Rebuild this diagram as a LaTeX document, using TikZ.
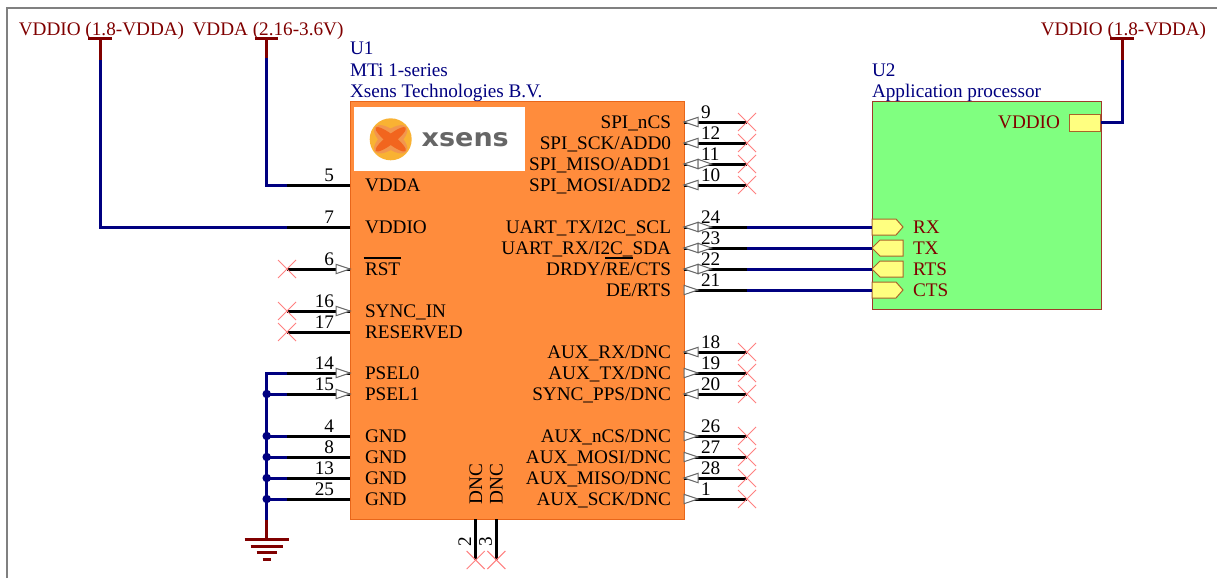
\documentclass[tikz,border=0pt]{standalone}
\usepackage{fontspec}
\setmainfont{Liberation Serif}
\newfontfamily\logofont{DejaVu Sans}
\definecolor{netblue}{HTML}{000080}
\definecolor{pwrred}{HTML}{800000}
\definecolor{chipfill}{HTML}{FF8C3C}
\definecolor{chipline}{HTML}{E8661A}
\definecolor{procfill}{HTML}{80FF80}
\definecolor{procline}{HTML}{A03A2A}
\definecolor{portfill}{HTML}{FFFF80}
\definecolor{portline}{HTML}{A8642A}
\definecolor{noconn}{HTML}{FF8080}
\definecolor{framegrey}{HTML}{808080}
\definecolor{logoyellow}{HTML}{F9B233}
\definecolor{logolight}{HTML}{F2964E}
\definecolor{logodark}{HTML}{F2651E}
\newcommand\tript{\fontsize{19.2}{22}\selectfont}
\tikzset{
  txt/.style={inner sep=0pt,outer sep=0pt,font=\tript},
  pinwire/.style={draw=black,line width=3pt},
  netwire/.style={draw=netblue,line width=3pt,line join=miter},
  pwrwire/.style={draw=pwrred,line width=3pt},
  xmark/.style={draw=noconn,line width=1pt},
  tri/.style={draw=black!60,line width=1pt,fill=white,line join=miter},
  port/.style={draw=portline,line width=1pt,fill=portfill},
  junction/.style={circle,fill=netblue,inner sep=0pt,minimum size=8.5pt},
  overbar/.style={draw=black,line width=2.6pt},
}
% triangle variants at a pin on the right side of U1
\newcommand\rtrii[1]{\path[tri] (#1) -- ++(14,-4.7) -- ++(0,9.4) -- cycle;}
\newcommand\rtrio[1]{\path[tri] (#1) ++(0,-4.7) -- ++(14,4.7) -- ++(-14,4.7) -- cycle;}
\newcommand\rtrib[1]{\rtrii{#1}\path[tri] (#1) ++(14,-4.7) -- ++(13.5,4.7) -- ++(-13.5,4.7) -- cycle;}
\newcommand\xat[1]{\draw[xmark] (#1) ++(-9,-9) -- ++(18,18) ++(-18,0) -- ++(18,-18);}
\begin{document}
\begin{tikzpicture}[x=1pt,y=-1pt]
\useasboundingbox (0,0) rectangle (1217,578);
\fill[white] (0,0) rectangle (1217,578);
\draw[framegrey,line width=1.6pt] (7,578) -- (7,8) -- (1217,8);

% blocks
\node[draw=chipline,line width=1pt,fill=chipfill,minimum width=334pt,minimum height=418pt,inner sep=0pt,anchor=north west] (U1) at (350,101) {};
\node[draw=procline,line width=1pt,fill=procfill,minimum width=229pt,minimum height=208pt,inner sep=0pt,anchor=north west] (U2) at (871.7,101) {};

% logo
\node[fill=white,minimum width=171pt,minimum height=64pt,inner sep=0pt,anchor=north west] (logo) at (354,107) {};
\fill[logoyellow] (390.7,139.3) circle (21);
\begin{scope}[shift={(390.7,139.3)}]
  \fill[logolight,rotate=-38] (0,0) ellipse (20 and 9);
  \fill[logolight,rotate=38] (0,0) ellipse (20 and 9);
  \fill[logodark,rotate=-38] (0,0) ellipse (19 and 4.6);
  \fill[logodark,rotate=38] (0,0) ellipse (19 and 4.6);
\end{scope}
\node[inner sep=0pt,anchor=base west,text=black!60,font=\logofont\bfseries\fontsize{25}{28}\selectfont,xscale=1.08] (logotext) at (421.5,146) {xsens};

% U1 / U2 captions
\node[txt,anchor=base west,text=netblue] (u1a) at (350,55) {U1};
\node[txt,anchor=base west,text=netblue] (u1b) at (350,76) {MTi 1-series};
\node[txt,anchor=base west,text=netblue] (u1c) at (350,97) {Xsens Technologies B.V.};
\node[txt,anchor=base west,text=netblue] (u2a) at (872,76) {U2};
\node[txt,anchor=base west,text=netblue] (u2b) at (872,97) {Application processor};

% right-hand pins of U1
\foreach \y/\n/\t/\d in {
  122/9/{SPI\_nCS}/i, 143/12/{SPI\_SCK/ADD0}/i, 164/11/{SPI\_MISO/ADD1}/b, 185/10/{SPI\_MOSI/ADD2}/i,
  227/24/{UART\_TX/I2C\_SCL}/b, 248/23/{UART\_RX/I2C\_SDA}/b, 269/22/{DRDY/RE/CTS}/b, 290/21/{DE/RTS}/o,
  352/18/{AUX\_RX/DNC}/i, 373/19/{AUX\_TX/DNC}/o, 394/20/{SYNC\_PPS/DNC}/i,
  436/26/{AUX\_nCS/DNC}/o, 457/27/{AUX\_MOSI/DNC}/o, 478/28/{AUX\_MISO/DNC}/i, 499/1/{AUX\_SCK/DNC}/o}{
  \coordinate (pin\n) at (684,\y);
  \coordinate (end\n) at (747,\y);
  \draw[pinwire] (pin\n) -- (end\n);
  \csname rtri\d\endcsname{pin\n}
  \node[txt,anchor=base east] (lab\n) at (671,\y+6) {\t};
  \node[txt,anchor=base west] (num\n) at (701,\y-4) {\n};
}
\foreach \n in {9,12,11,10,18,19,20,26,27,28,1}{\xat{end\n}}

% left-hand pins of U1
\foreach \y/\n/\t/\d in {
  185/5/{VDDA}/n, 227/7/{VDDIO}/n, 269/6/{RST}/i, 311/16/{SYNC\_IN}/i, 332/17/{RESERVED}/n,
  373/14/{PSEL0}/i, 394/15/{PSEL1}/i, 436/4/{GND}/n, 457/8/{GND}/n, 478/13/{GND}/n, 499/25/{GND}/n}{
  \coordinate (pin\n) at (350,\y);
  \coordinate (end\n) at (287,\y);
  \draw[pinwire] (pin\n) -- (end\n);
  \if\d i\path[tri] (pin\n) -- ++(-14,-4.7) -- ++(0,9.4) -- cycle;\fi
  \node[txt,anchor=base west] (lab\n) at (365,\y+6) {\t};
  \node[txt,anchor=base east] (num\n) at (334,\y-4) {\n};
}
\foreach \n in {6,16,17}{\xat{end\n}}

% overbars
\draw[overbar] (363.5,258) -- (401,258);
\draw[overbar] (605,258) -- (633,258);

% bottom pins
\foreach \x/\n in {475.7/2,496.4/3}{
  \coordinate (pin\n) at (\x,519);
  \coordinate (end\n) at (\x,560);
  \draw[pinwire] (pin\n) -- (end\n);
  \xat{end\n}
  \node[txt,anchor=base west,rotate=90] (lab\n) at (\x+6.3,504) {DNC};
  \node[txt,anchor=base west,rotate=90] (num\n) at (\x-4.5,546) {\n};
}

% U2 ports
\node[draw=portline,line width=1pt,fill=portfill,minimum width=31pt,minimum height=17pt,inner sep=0pt,anchor=east] (pVDDIO) at (1101,122.5) {};
\node[txt,anchor=base east,text=pwrred] (lVDDIO) at (1060,128.5) {VDDIO};
\foreach \y/\n/\d in {227/RX/o,248/TX/i,269/RTS/i,290/CTS/o}{
  \coordinate (port\n) at (872,\y);
  \if\d o\path[port] (port\n) ++(0,-8) -- ++(24,0) -- ++(7,8) -- ++(-7,8) -- ++(-24,0) -- cycle;
  \else\path[port] (port\n) -- ++(8,-8) -- ++(23,0) -- ++(0,16) -- ++(-23,0) -- cycle;\fi
  \node[txt,anchor=base west,text=pwrred] (l\n) at (913,\y+6) {\n};
}

% nets from U1 to U2
\foreach \n/\p in {24/RX,23/TX,22/RTS,21/CTS}{\draw[netwire] (end\n) -- (port\p);}
\draw[netwire] (pVDDIO.east) -- (1122,122.5) coordinate (c1) -- (1122,60) coordinate (c2);

% power rails
\coordinate (vioTop) at (100,39);
\coordinate (vioStub) at (100,60);
\coordinate (vaTop) at (266.5,39);
\coordinate (vaStub) at (266.5,58);
\coordinate (vrTop) at (1122,39);
\draw[netwire] (vioStub) |- (end7);
\draw[netwire] (vaStub) |- (end5);
\draw[pwrwire] (vioTop) -- (vioStub);
\draw[pwrwire] (vaTop) -- (vaStub);
\draw[pwrwire] (vrTop) -- (c2);
\foreach \c in {vioTop,vaTop,vrTop}{\draw[pwrwire] (\c) ++(-11.7,0) -- ++(23.4,0);}
\node[txt,anchor=base,text=pwrred] (pwrA) at (101.5,36) {VDDIO (1.8-VDDA)};
\node[txt,anchor=base,text=pwrred] (pwrB) at (268,36) {VDDA (2.16-3.6V)};
\node[txt,anchor=base,text=pwrred] (pwrC) at (1123.5,36) {VDDIO (1.8-VDDA)};

% ground bus
\coordinate (gndA) at (266.7,373);
\coordinate (gndB) at (266.7,520);
\coordinate (gndC) at (266.7,539.5);
\draw[netwire] (end14) -| (gndB);
\foreach \n in {15,4,8,13,25}{
  \draw[netwire] (end\n) -- (gndA |- end\n);
  \node[junction] (j\n) at (gndA |- end\n) {};
}
\draw[pwrwire] (gndB) -- (gndC);
\draw[pwrwire] (gndC) ++(-22,0) -- ++(44,0);
\draw[pwrwire] (gndC) ++(-16,6.5) -- ++(32,0);
\draw[pwrwire] (gndC) ++(-10,13) -- ++(20,0);
\draw[pwrwire] (gndC) ++(-4,19.5) -- ++(8,0);
\end{tikzpicture}
\end{document}
